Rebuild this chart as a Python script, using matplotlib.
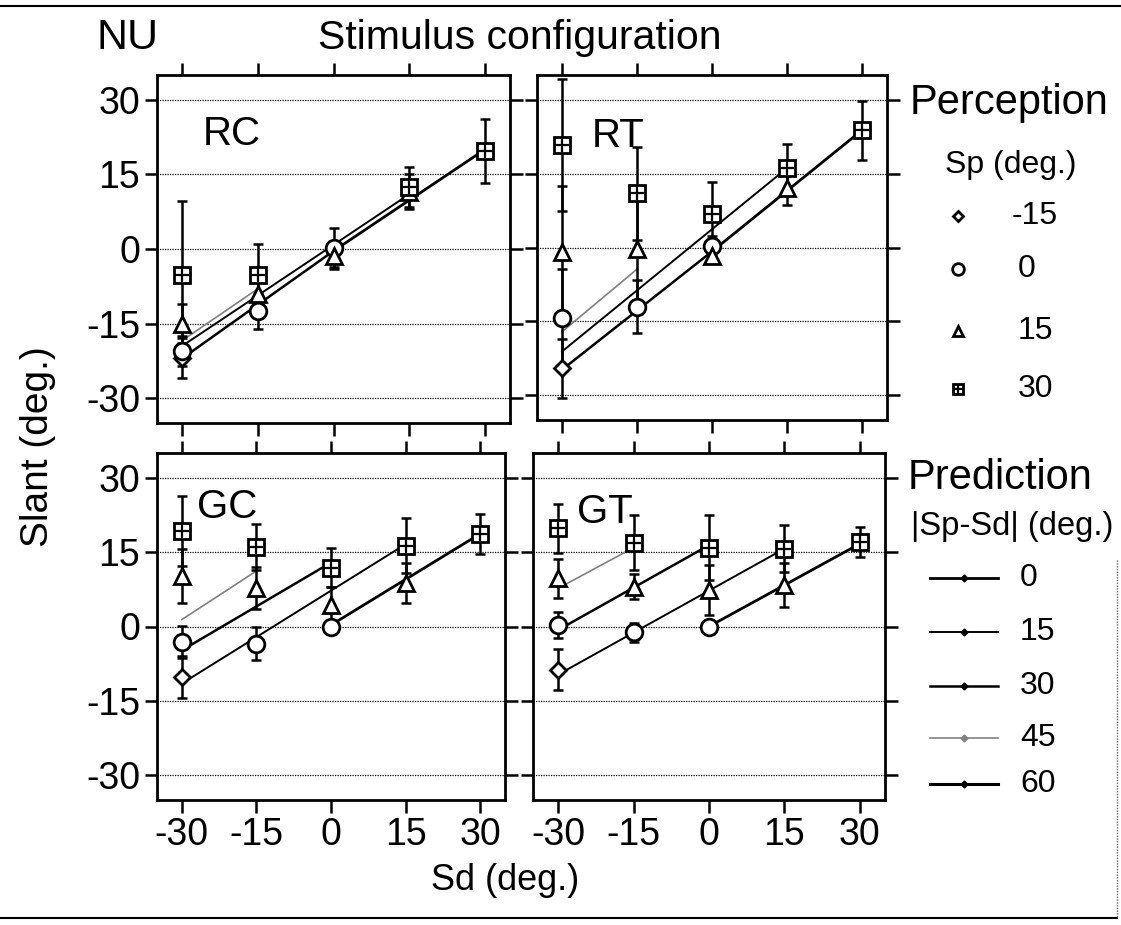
import numpy as np
import matplotlib
matplotlib.use('Agg')
import matplotlib.pyplot as plt

plt.rcParams['font.family'] = ['Liberation Sans', 'DejaVu Sans']
plt.rcParams['axes.unicode_minus'] = False

nan = np.nan
sd = np.array([-30, -15, 0, 15, 30])
sp_levels = [-15, 0, 15, 30]
diff_levels = [0, 15, 30, 45, 60]

# perceived slant (mean, error) per Sp level, at each Sd
rc_mean = {-15: [-22, nan, nan, nan, nan], 0: [-20.5, -12.5, 0.3, nan, nan],
           15: [-15, -9, -1.5, 11.5, nan], 30: [-5.3, -5.3, nan, 12.5, 19.7]}
rc_err = {-15: [4, nan, nan, nan, nan], 0: [3, 3.5, 4, nan, nan],
          15: [4, 3, 2.5, 3.5, nan], 30: [15, 6.3, nan, 4, 6.5]}

rt_mean = {-15: [-24.5, nan, nan, nan, nan], 0: [-14.4, -12, 0.3, nan, nan],
           15: [-1, -0.3, -1.7, 12.1, nan], 30: [20.8, 11, 6.7, 16.1, 23.8]}
rt_err = {-15: [6, nan, nan, nan, nan], 0: [10, 5.4, 2, nan, nan],
          15: [13.5, 12, 1.5, 3.4, nan], 30: [13.4, 9.4, 6.5, 5, 6]}

gc_mean = {-15: [-10.2, nan, nan, nan, nan], 0: [-3.1, -3.5, 0, nan, nan],
           15: [10.2, 7.8, 4.4, 8.8, nan], 30: [19.3, 16, 11.9, 16.3, 18.7]}
gc_err = {-15: [4.2, nan, nan, nan, nan], 0: [3.2, 3.3, 1, nan, nan],
          15: [5.5, 4.2, 3.5, 4, nan], 30: [7, 4.7, 4, 5.5, 4]}

gt_mean = {-15: [-8.7, nan, nan, nan, nan], 0: [0.3, -1.2, 0, nan, nan],
           15: [9.7, 8, 7.4, 8.4, nan], 30: [19.8, 16.9, 15.9, 15.7, 17.1]}
gt_err = {-15: [4.2, nan, nan, nan, nan], 0: [2.7, 2, 1, nan, nan],
          15: [4, 2.5, 5, 4.4, nan], 30: [5, 5.5, 6.5, 4.7, 3]}

# predicted slant lines per |Sp-Sd|: (Sd ends, slant ends)
rc_pred = {0: ([0, 30], [-0.4, 20]), 15: ([-30, 15], [-19.5, 11]),
           30: ([-30, 0], [-22, -0.4]), 45: ([-30, -15], [-18.4, -8])}
rt_pred = {0: ([0, 30], [-0.8, 23.8]), 15: ([-30, 15], [-21.1, 16.1]),
           30: ([-30, 0], [-24.8, -0.8]), 45: ([-30, -15], [-17.1, -4.4])}
gc_pred = {0: ([0, 30], [0.3, 18.7]), 15: ([-30, 15], [-11.5, 16.6]),
           30: ([-30, 0], [-4.8, 12.9]), 45: ([-30, -15], [1.4, 11.2])}
gt_pred = {0: ([0, 30], [0, 16.7]), 15: ([-30, 15], [-9.7, 15.7]),
           30: ([-30, 0], [-0.7, 16.4]), 45: ([-30, -15], [7.7, 15.9])}

marker_style = {-15: dict(marker='D', ms=8), 0: dict(marker='o', ms=12),
                15: dict(marker='^', ms=11), 30: dict(marker='s', ms=11)}
pred_style = {0: dict(color='black', lw=2.0), 15: dict(color='black', lw=1.4),
              30: dict(color='black', lw=1.8), 45: dict(color='0.5', lw=1.2),
              60: dict(color='black', lw=2.2)}

W, H = 1121, 925
fig = plt.figure(figsize=(W / 100, H / 100), dpi=100)


def px_axes(left, right, top, bottom):
    return fig.add_axes([left / W, 1 - bottom / H, (right - left) / W, (bottom - top) / H])


def draw_sp_marker(ax, x, y, sp, scale=1.0):
    st = marker_style[sp]
    ax.plot(x, y, ls='none', marker=st['marker'], ms=st['ms'] * scale, mfc='white',
            mec='black', mew=2, zorder=4)
    if sp == 30:
        ax.plot(x, y, ls='none', marker='+', ms=st['ms'] * 0.9 * scale, mec='black',
                mew=1.6, zorder=5)


def draw_panel(ax, means, errs, preds, name, lx, ly, xlabels, ylabels):
    for diff, (xs, ys) in preds.items():
        ax.plot(xs, ys, zorder=2, **pred_style[diff])
    for sp in sp_levels:
        m = np.array(means[sp], dtype=float)
        e = np.array(errs[sp], dtype=float)
        ok = ~np.isnan(m)
        ax.errorbar(sd[ok], m[ok], yerr=e[ok], fmt='none', ecolor='black',
                    elinewidth=1.8, capsize=3.5, capthick=1.8, zorder=3)
        draw_sp_marker(ax, sd[ok], m[ok], sp)
    ax.set_xlim(-35, 35)
    ax.set_ylim(-35, 35)
    ax.set_xticks(sd)
    ax.set_yticks([-30, -15, 0, 15, 30])
    ax.grid(axis='y', color='black', lw=0.9, ls=(0, (1, 1)))
    ax.tick_params(direction='out', length=9, width=1.8, top=True, right=True,
                   labelsize=27, labelbottom=xlabels, labelleft=ylabels, pad=3)
    for s in ax.spines.values():
        s.set_linewidth(2)
    ax.text(lx, ly, name, transform=ax.transAxes, fontsize=29, va='center', ha='left')


ax_rc = px_axes(157, 510, 75, 423)
ax_rt = px_axes(537, 887, 75, 420)
ax_gc = px_axes(157, 505, 453, 800)
ax_gt = px_axes(533, 885, 453, 800)

draw_panel(ax_rc, rc_mean, rc_err, rc_pred, 'RC', 0.13, 0.83, False, True)
draw_panel(ax_rt, rt_mean, rt_err, rt_pred, 'RT', 0.157, 0.823, False, False)
draw_panel(ax_gc, gc_mean, gc_err, gc_pred, 'GC', 0.115, 0.844, True, True)
draw_panel(ax_gt, gt_mean, gt_err, gt_pred, 'GT', 0.125, 0.83, True, False)

# overlay in pixel coordinates for titles and legends
ov = fig.add_axes([0, 0, 1, 1], zorder=10)
ov.set_xlim(0, W)
ov.set_ylim(H, 0)
ov.axis('off')
ov.patch.set_alpha(0)

ov.plot([0, W], [6, 6], color='black', lw=1.5)
ov.plot([0, 1117], [918, 918], color='black', lw=1.5)
ov.plot([1117, 1117], [560, 918], color='0.4', lw=1, ls=(0, (1, 1)))

ov.text(97, 38, 'NU', fontsize=31, va='center', ha='left')
ov.text(318, 38, 'Stimulus configuration', fontsize=29.5, va='center', ha='left')
ov.text(38, 447, 'Slant (deg.)', fontsize=28, rotation=90, va='center', ha='center')
ov.text(505, 880, 'Sd (deg.)', fontsize=26, va='center', ha='center')

ov.text(910, 103, 'Perception', fontsize=30, va='center', ha='left')
ov.text(945, 165, 'Sp (deg.)', fontsize=23, va='center', ha='left')
for sp, y in zip(sp_levels, [216, 269, 331, 389]):
    draw_sp_marker(ov, [958], [y], sp, scale=0.7)
    ov.text(1012 if sp < 0 else 1018, y, str(sp), fontsize=23, va='center', ha='left')

ov.text(908, 478, 'Prediction', fontsize=30, va='center', ha='left')
ov.text(911, 526, '|Sp-Sd| (deg.)', fontsize=23.5, va='center', ha='left')
for diff, y in zip(diff_levels, [578, 632, 686, 738, 784]):
    ov.plot([930, 998], [y, y], **pred_style[diff])
    ov.plot([964], [y], ls='none', marker='D', ms=3.5, color=pred_style[diff]['color'])
    ov.text(1020, y, str(diff), fontsize=23, va='center', ha='left')

fig.savefig('out.png', dpi=100)
